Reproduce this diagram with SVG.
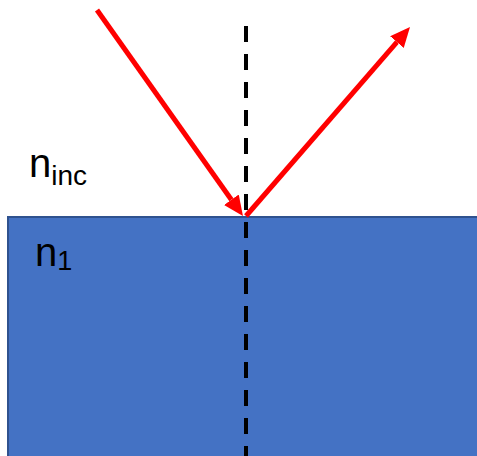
<svg xmlns="http://www.w3.org/2000/svg" width="477" height="456" viewBox="0 0 477 456">
  <style>
    .ray { stroke: #FF0000; stroke-width: 5; fill: none; marker-end: url(#head); }
    .normal { stroke: #000000; stroke-width: 4; stroke-dasharray: 16 12; fill: none; }
    .label { font-family: "Liberation Sans", Arial, sans-serif; fill: #000000; }
  </style>
  <defs>
    <marker id="head" viewBox="0 0 20 18" markerWidth="20" markerHeight="18" markerUnits="userSpaceOnUse" refX="0" refY="9" orient="auto">
      <path d="M0,0 L20,9 L0,18 z" fill="#FF0000"/>
    </marker>
  </defs>
  <rect width="477" height="456" fill="#FFFFFF"/>
  <g id="medium">
    <rect x="8" y="217" width="480" height="250" fill="#4472C4" stroke="#2F528F" stroke-width="2"/>
  </g>
  <g id="label-ninc">
    <text class="label" x="29" y="177" font-size="40">n<tspan font-size="28" dy="8">inc</tspan></text>
  </g>
  <g id="label-n1">
    <text class="label" x="35" y="266" font-size="40">n<tspan font-size="27" dy="4">1</tspan></text>
  </g>
  <g id="connectors">
    <line class="normal" x1="246" y1="26" x2="246" y2="456"/>
    <line class="ray" x1="97" y1="10" x2="231.4" y2="199.7"/>
    <line class="ray" x1="246" y1="216" x2="396.9" y2="42.1"/>
  </g>
</svg>
